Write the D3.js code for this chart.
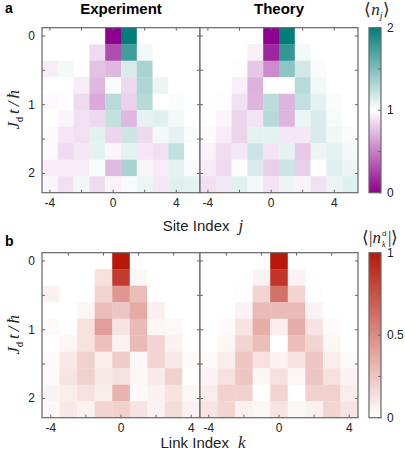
<!DOCTYPE html>
<html>
<head>
<meta charset="utf-8">
<script src="https://cdn.jsdelivr.net/npm/d3@7"></script>
<style>
  body { margin: 0; background: #fff; }
  svg { display: block; font-family: "Liberation Sans", Arial, sans-serif; }
</style>
</head>
<body>
<div id="chart"></div>
<script>
// Data ------------------------------------------------------------------------
const sites = [-4, -3, -2, -1, 0, 1, 2, 3, 4, 5];
const links = [-4, -3, -2, -1, 0, 1, 2, 3, 4];
const times = [0, 0.24, 0.48, 0.72, 0.96, 1.2, 1.44, 1.68, 1.92, 2.16];

// <n_j>, rows = times, columns = sites
const densityExp = [
  [1, 1, 1, 1, 0, 2, 1, 1, 1, 1],
  [1, 1, 1, 0.86, 0.3, 1.75, 1.05, 1, 1, 1],
  [0.93, 1.05, 1, 0.76, 0.72, 1.15, 1.34, 1, 1, 1],
  [1, 1, 0.93, 0.72, 1.02, 0.85, 1.32, 1.08, 1, 1],
  [0.98, 0.99, 0.86, 0.67, 1.28, 0.82, 1.29, 1.0, 1.02, 1],
  [1, 0.96, 0.88, 0.85, 1.24, 0.72, 1.1, 1.12, 1.05, 1],
  [0.98, 0.9, 0.88, 1.11, 0.84, 1.2, 0.85, 1.05, 1.1, 1.02],
  [0.98, 0.86, 0.9, 1.1, 0.96, 1.1, 0.9, 0.88, 1.24, 1],
  [0.93, 0.93, 0.93, 1.03, 0.73, 1.34, 0.96, 0.92, 1.1, 1.03],
  [0.96, 0.88, 1.06, 0.86, 0.95, 1.04, 1.08, 0.9, 1.12, 1.1]
];
const densityTheory = [
  [1, 1, 1, 1, 0, 2, 1, 1, 1, 1],
  [1, 1, 1, 0.94, 0.15, 1.8, 1.05, 1, 1, 1],
  [1, 1, 1.01, 0.78, 0.55, 1.45, 1.18, 1.02, 1, 1],
  [1, 1, 0.94, 0.7, 1.0, 1.0, 1.28, 1.05, 1, 1],
  [1, 0.99, 0.88, 0.71, 1.27, 0.71, 1.24, 1.1, 1.02, 1],
  [1, 0.96, 0.84, 0.89, 1.29, 0.71, 1.08, 1.15, 1.04, 1],
  [0.98, 0.92, 0.83, 1.1, 1.1, 0.91, 0.91, 1.15, 1.06, 1.02],
  [0.95, 0.87, 0.9, 1.2, 0.89, 1.1, 0.79, 1.08, 1.1, 1.05],
  [0.92, 0.86, 1.01, 1.15, 0.81, 1.2, 0.81, 1.0, 1.12, 1.08],
  [0.88, 0.91, 1.12, 1.05, 0.89, 1.08, 0.95, 0.88, 1.08, 1.12]
];

// <|n_k^d|>, rows = times, columns = links
const defectExp = [
  [0, 0, 0, 0, 1.0, 0, 0, 0, 0],
  [0, 0, 0, 0.13, 0.85, 0.04, 0, 0, 0],
  [0.06, 0, 0, 0.18, 0.45, 0.28, 0, 0, 0],
  [0, 0, 0.04, 0.28, 0.25, 0.37, 0.07, 0, 0],
  [0.02, 0, 0.13, 0.42, 0.12, 0.3, 0.04, 0.03, 0],
  [0, 0.04, 0.13, 0.27, 0.05, 0.3, 0.18, 0.06, 0],
  [0.02, 0.1, 0.2, 0.08, 0.22, 0.04, 0.18, 0.1, 0.02],
  [0.02, 0.12, 0.2, 0.1, 0.13, 0.04, 0.09, 0.2, 0],
  [0.05, 0.08, 0.13, 0.08, 0.33, 0.02, 0.06, 0.12, 0.04],
  [0.03, 0.1, 0.05, 0.18, 0.2, 0.12, 0.05, 0.15, 0.06]
];
const defectTheory = [
  [0, 0, 0, 0, 1, 0, 0, 0, 0],
  [0, 0, 0, 0.05, 0.88, 0.05, 0, 0, 0],
  [0, 0, 0.01, 0.18, 0.62, 0.18, 0.01, 0, 0],
  [0, 0, 0.05, 0.3, 0.3, 0.3, 0.05, 0, 0],
  [0, 0.02, 0.12, 0.35, 0.07, 0.35, 0.12, 0.02, 0],
  [0, 0.04, 0.18, 0.28, 0, 0.28, 0.18, 0.04, 0],
  [0.02, 0.08, 0.25, 0.13, 0.05, 0.13, 0.25, 0.08, 0.02],
  [0.05, 0.13, 0.25, 0.04, 0.13, 0.04, 0.25, 0.13, 0.05],
  [0.08, 0.2, 0.2, 0, 0.18, 0, 0.2, 0.2, 0.08],
  [0.12, 0.18, 0.06, 0.04, 0.12, 0.04, 0.06, 0.18, 0.12]
];

const timeTicks = [0, 0.5, 1, 1.5, 2];
const timeLabels = [0, 1, 2];
const densityTicks = [0, 1, 2];
const defectTicks = [0, 0.5, 1];

// Layout ----------------------------------------------------------------------
const width = 405;
const height = 456;
const panelW = 158;
const panelH = 165;
const left = 42;
const frame = "#666";
const ink = "#222";

const svg = d3.select("#chart")
  .append("svg")
  .attr("width", width)
  .attr("height", height);

const densityColor = d3.scaleLinear()
  .domain([0, 1, 2])
  .range(["#8e008e", "#ffffff", "#007e7a"]);

const defectColor = d3.scaleLinear()
  .domain([0, 1])
  .range(["#ffffff", "#b8180a"]);

const yScale = d3.scaleLinear()
  .domain([-0.12, 2.28])
  .range([0, panelH]);

// Draw one heatmap panel ------------------------------------------------------
function heatmap(g, data, cols, color, opts) {
  const x = d3.scaleLinear()
    .domain([cols[0] - 0.5, cols[cols.length - 1] + 0.5])
    .range([0, panelW]);
  const cw = x(1) - x(0);
  const rh = yScale(times[1]) - yScale(times[0]);

  data.forEach((row, i) => {
    g.selectAll(null)
      .data(row)
      .enter()
      .append("rect")
      .attr("x", (d, j) => x(cols[j] - 0.5))
      .attr("y", yScale(times[i]) - rh / 2)
      .attr("width", cw + 0.3)
      .attr("height", rh + 0.3)
      .attr("fill", d => color(d));
  });

  // inward ticks on all four sides
  const tl = 3;
  g.selectAll(null).data(opts.bottomTicks).enter().append("line")
    .attr("x1", d => x(d)).attr("x2", d => x(d))
    .attr("y1", panelH).attr("y2", panelH - tl)
    .attr("stroke", frame);
  g.selectAll(null).data(opts.topTicks).enter().append("line")
    .attr("x1", d => x(d)).attr("x2", d => x(d))
    .attr("y1", 0).attr("y2", tl)
    .attr("stroke", frame);
  g.selectAll(null).data(timeTicks).enter().append("line")
    .attr("x1", 0).attr("x2", tl)
    .attr("y1", d => yScale(d)).attr("y2", d => yScale(d))
    .attr("stroke", frame);
  g.selectAll(null).data(timeTicks).enter().append("line")
    .attr("x1", panelW).attr("x2", panelW - tl)
    .attr("y1", d => yScale(d)).attr("y2", d => yScale(d))
    .attr("stroke", frame);

  g.append("rect")
    .attr("width", panelW)
    .attr("height", panelH)
    .attr("fill", "none")
    .attr("stroke", frame)
    .attr("stroke-width", 1.2);

  g.selectAll(null).data([-4, 0, 4]).enter().append("text")
    .attr("x", d => x(d))
    .attr("y", panelH + 14)
    .attr("text-anchor", "middle")
    .attr("font-size", 12)
    .attr("fill", ink)
    .text(d => d < 0 ? "-" + Math.abs(d) : d);

  if (opts.yLabels) {
    g.selectAll(null).data(timeLabels).enter().append("text")
      .attr("x", -7)
      .attr("y", d => yScale(d) + 4)
      .attr("text-anchor", "end")
      .attr("font-size", 12)
      .attr("fill", ink)
      .text(d => d);
  }
}

function colorbar(g, id, color, domain, ticks) {
  const cb = d3.scaleLinear().domain(domain).range([panelH, 0]);
  const grad = svg.append("defs").append("linearGradient")
    .attr("id", id)
    .attr("x1", 0).attr("x2", 0).attr("y1", 1).attr("y2", 0);
  for (let i = 0; i <= 50; i++) {
    grad.append("stop")
      .attr("offset", (i * 2) + "%")
      .attr("stop-color", color(domain[0] + (domain[1] - domain[0]) * i / 50));
  }
  g.append("rect")
    .attr("width", 12)
    .attr("height", panelH)
    .attr("fill", "url(#" + id + ")")
    .attr("stroke", frame)
    .attr("stroke-width", 1.2);
  const minor = d3.range(domain[0], domain[1] + 1e-9, (domain[1] - domain[0]) / 4);
  g.selectAll(null).data(minor).enter().append("line")
    .attr("x1", 12).attr("x2", 9)
    .attr("y1", d => cb(d)).attr("y2", d => cb(d))
    .attr("stroke", frame);
  g.selectAll(null).data(ticks).enter().append("text")
    .attr("x", 18)
    .attr("y", d => cb(d) + 4)
    .attr("font-size", 12)
    .attr("fill", ink)
    .text(d => d);
}

function yLabel(cy) {
  const t = svg.append("text")
    .attr("transform", `translate(19, ${cy}) rotate(-90)`)
    .attr("text-anchor", "middle")
    .attr("font-family", "Liberation Serif, Times New Roman, serif")
    .attr("font-size", 17)
    .attr("fill", ink);
  t.append("tspan").attr("font-style", "italic").text("J");
  t.append("tspan").attr("font-family", "Liberation Sans, Arial, sans-serif")
    .attr("font-size", 9).attr("dy", 4).text("d");
  t.append("tspan").attr("font-style", "italic").attr("dy", -4).attr("dx", 3).text("t");
  t.append("tspan").attr("font-style", "italic").attr("dx", 3).text("/");
  t.append("tspan").attr("font-style", "italic").attr("dx", 3).text("ħ");
}

// Panel a ---------------------------------------------------------------------
const topA = 27.7;
const topB = 252.7;

heatmap(svg.append("g").attr("transform", `translate(${left},${topA})`),
  densityExp, sites, densityColor,
  { bottomTicks: [-4, -2, 0, 2, 4], topTicks: [-4, -2, 0, 2, 4], yLabels: true });
heatmap(svg.append("g").attr("transform", `translate(${left + panelW},${topA})`),
  densityTheory, sites, densityColor,
  { bottomTicks: [-4, -2, 0, 2, 4], topTicks: [-4, -2, 0, 2, 4], yLabels: false });
colorbar(svg.append("g").attr("transform", `translate(369,${topA})`),
  "density-gradient", densityColor, [0, 2], densityTicks);

// Panel b ---------------------------------------------------------------------
heatmap(svg.append("g").attr("transform", `translate(${left},${topB})`),
  defectExp, links, defectColor,
  { bottomTicks: [-4, -2, 0, 2, 4], topTicks: [-3, -1, 1, 3], yLabels: true });
heatmap(svg.append("g").attr("transform", `translate(${left + panelW},${topB})`),
  defectTheory, links, defectColor,
  { bottomTicks: [-4, -2, 0, 2, 4], topTicks: [-3, -1, 1, 3], yLabels: false });
colorbar(svg.append("g").attr("transform", `translate(369,${topB})`),
  "defect-gradient", defectColor, [0, 1], defectTicks);

// Titles and labels -----------------------------------------------------------
svg.append("text").attr("x", 5).attr("y", 13)
  .attr("font-weight", "bold").attr("font-size", 14).text("a");
svg.append("text").attr("x", 5).attr("y", 246)
  .attr("font-weight", "bold").attr("font-size", 14).text("b");

svg.append("text").attr("x", left + panelW / 2).attr("y", 14)
  .attr("text-anchor", "middle").attr("font-weight", "bold")
  .attr("font-size", 15).text("Experiment");
svg.append("text").attr("x", left + panelW * 1.5).attr("y", 14)
  .attr("text-anchor", "middle").attr("font-weight", "bold")
  .attr("font-size", 15).text("Theory");

yLabel(topA + 82);
yLabel(topB + 82);

const xa = svg.append("text").attr("x", left + panelW + 3).attr("y", 231)
  .attr("text-anchor", "middle").attr("font-size", 15).attr("fill", ink);
xa.append("tspan").text("Site Index");
xa.append("tspan").attr("font-family", "Liberation Serif, serif")
  .attr("dx", 9).attr("font-style", "italic").attr("font-size", 17).text("j");

const xb = svg.append("text").attr("x", left + panelW + 3).attr("y", 448)
  .attr("text-anchor", "middle").attr("font-size", 15).attr("fill", ink);
xb.append("tspan").text("Link Index");
xb.append("tspan").attr("font-family", "Liberation Serif, serif")
  .attr("dx", 9).attr("font-style", "italic").attr("font-size", 17).text("k");

// colorbar titles
const ca = svg.append("text").attr("x", 377).attr("y", 15)
  .attr("text-anchor", "middle")
  .attr("font-family", "Liberation Serif, serif")
  .attr("font-size", 17).attr("fill", ink);
ca.append("tspan").text("⟨");
ca.append("tspan").attr("font-style", "italic").text("n");
ca.append("tspan").attr("font-style", "italic").attr("font-size", 10)
  .attr("dy", 4).text("j");
ca.append("tspan").attr("dy", -4).text("⟩");

const serif = "Liberation Serif, serif";
svg.append("text").attr("x", 381).attr("y", 243)
  .attr("text-anchor", "end").attr("font-family", serif)
  .attr("font-size", 17).attr("fill", ink)
  .call(t => {
    t.append("tspan").text("⟨|");
    t.append("tspan").attr("font-style", "italic").text("n");
  });
svg.append("text").attr("x", 382).attr("y", 236)
  .attr("font-size", 8).attr("fill", ink).text("d");
svg.append("text").attr("x", 382).attr("y", 247)
  .attr("font-family", serif).attr("font-style", "italic")
  .attr("font-size", 8).attr("fill", ink).text("k");
svg.append("text").attr("x", 388).attr("y", 243)
  .attr("font-family", serif).attr("font-size", 17).attr("fill", ink)
  .text("|⟩");
</script>
</body>
</html>
